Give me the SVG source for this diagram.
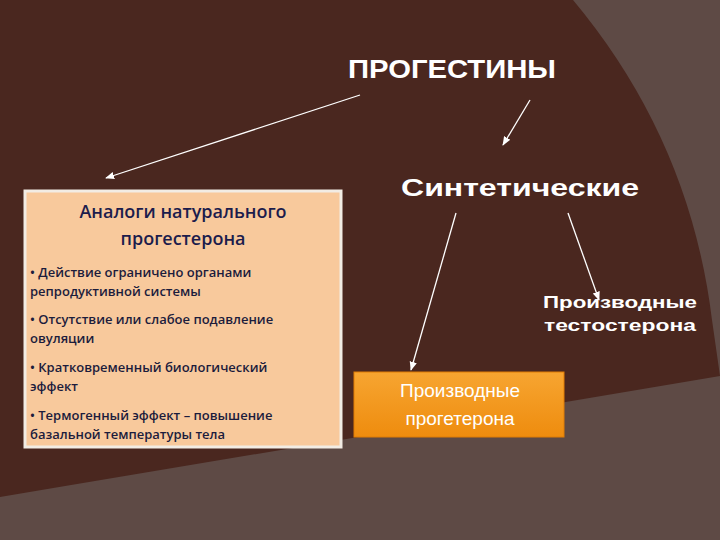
<svg xmlns="http://www.w3.org/2000/svg" width="720" height="540" viewBox="0 0 720 540">
<defs>
<style>
.w{fill:#fff;font-family:"Liberation Sans",Arial,sans-serif}
.b{fill:#1c1c3c;font-family:"Open Sans","Liberation Sans",sans-serif;font-size:13px;font-weight:600}
.cn{stroke:#fff;stroke-width:1.3;fill:none;marker-end:url(#ah)}
</style>
<marker id="ah" viewBox="0 0 10 10" refX="9" refY="5" markerWidth="7" markerHeight="7" orient="auto"><path d="M0,1 L10,5 L0,9 Z" fill="#fff"/></marker>
<linearGradient id="og" x1="0" y1="0" x2="0" y2="1"><stop offset="0" stop-color="#f7a531"/><stop offset="1" stop-color="#ee8c0e"/></linearGradient>
</defs>
<rect width="720" height="540" fill="#5e4a45"/>
<path d="M0,0 H573 Q690,140 712,320 L720,376 Q400,430 0,497 Z" fill="#4a271f"/>
<g id="n-progestiny"><text class="w" x="452" y="78" font-size="25" font-weight="bold" text-anchor="middle" textLength="208" lengthAdjust="spacingAndGlyphs">ПРОГЕСТИНЫ</text></g>
<g id="n-sintet"><text class="w" x="520" y="196" font-size="24" font-weight="bold" text-anchor="middle" textLength="238" lengthAdjust="spacingAndGlyphs">Синтетические</text></g>
<g id="n-analog">
<rect x="25" y="191" width="316" height="256" fill="#f8c99c" stroke="#f2ece4" stroke-width="3"/>
<text x="183" y="218" font-family="Open Sans,Liberation Sans,sans-serif" font-size="18" font-weight="600" fill="#1c1c4c" text-anchor="middle">Аналоги натурального</text>
<text x="183" y="245" font-family="Open Sans,Liberation Sans,sans-serif" font-size="18" font-weight="600" fill="#1c1c4c" text-anchor="middle">прогестерона</text>
<text class="b" x="30" y="277">•  Действие ограничено органами</text>
<text class="b" x="30" y="296">репродуктивной системы</text>
<text class="b" x="30" y="324">•  Отсутствие или слабое подавление</text>
<text class="b" x="30" y="343">овуляции</text>
<text class="b" x="30" y="372">•  Кратковременный биологический</text>
<text class="b" x="30" y="391">эффект</text>
<text class="b" x="30" y="420">•  Термогенный эффект – повышение</text>
<text class="b" x="30" y="439">базальной температуры тела</text>
</g>
<g id="n-testo">
<text class="w" x="620" y="308" font-size="17" font-weight="bold" text-anchor="middle" textLength="154" lengthAdjust="spacingAndGlyphs">Производные</text>
<text class="w" x="620" y="331" font-size="17" font-weight="bold" text-anchor="middle" textLength="152" lengthAdjust="spacingAndGlyphs">тестостерона</text>
</g>
<g id="n-proget">
<rect x="354" y="372" width="210" height="65" fill="url(#og)" stroke="#e07d05"/>
<text class="w" x="460" y="397" font-size="19" text-anchor="middle">Производные</text>
<text class="w" x="460" y="425" font-size="19" text-anchor="middle">прогетерона</text>
</g>
<g id="connectors">
<path class="cn" d="M360,95 L106,178"/>
<path class="cn" d="M530,100 L503,145"/>
<path class="cn" d="M456,213 L411,370"/>
<path class="cn" d="M568,213 L599,300"/>
</g>
</svg>
